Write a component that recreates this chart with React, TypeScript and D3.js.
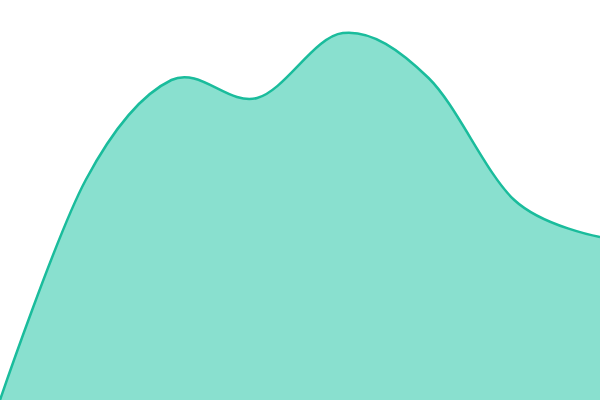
import React from "react";
import * as d3 from "d3";

const W = 600;
const H = 400;

const categories = [0, 1, 2, 3, 4, 5, 6, 7];
const values = [0, 55, 80, 75.5, 91.75, 80.5, 50, 40.75];

export default function App() {
  const x = d3.scaleLinear().domain([0, categories.length - 1]).range([0, W]);
  const y = d3.scaleLinear().domain([0, 100]).range([H, 0]);
  const data = categories.map((c, i) => ({ c, v: values[i] }));
  const curve = d3.curveCardinal.tension(0);
  const area = d3
    .area<{ c: number; v: number }>()
    .x((d) => x(d.c))
    .y0(H)
    .y1((d) => y(d.v))
    .curve(curve);
  const line = d3
    .line<{ c: number; v: number }>()
    .x((d) => x(d.c))
    .y((d) => y(d.v))
    .curve(curve);
  return (
    <svg
      width={W}
      height={H}
      style={{ position: "fixed", left: 0, top: 0, display: "block", background: "#fff" }}
    >
      <path d={area(data) || ""} fill="#89e0cf" />
      <path d={line(data) || ""} fill="none" stroke="#1abc9c" strokeWidth={2.5} />
    </svg>
  );
}
